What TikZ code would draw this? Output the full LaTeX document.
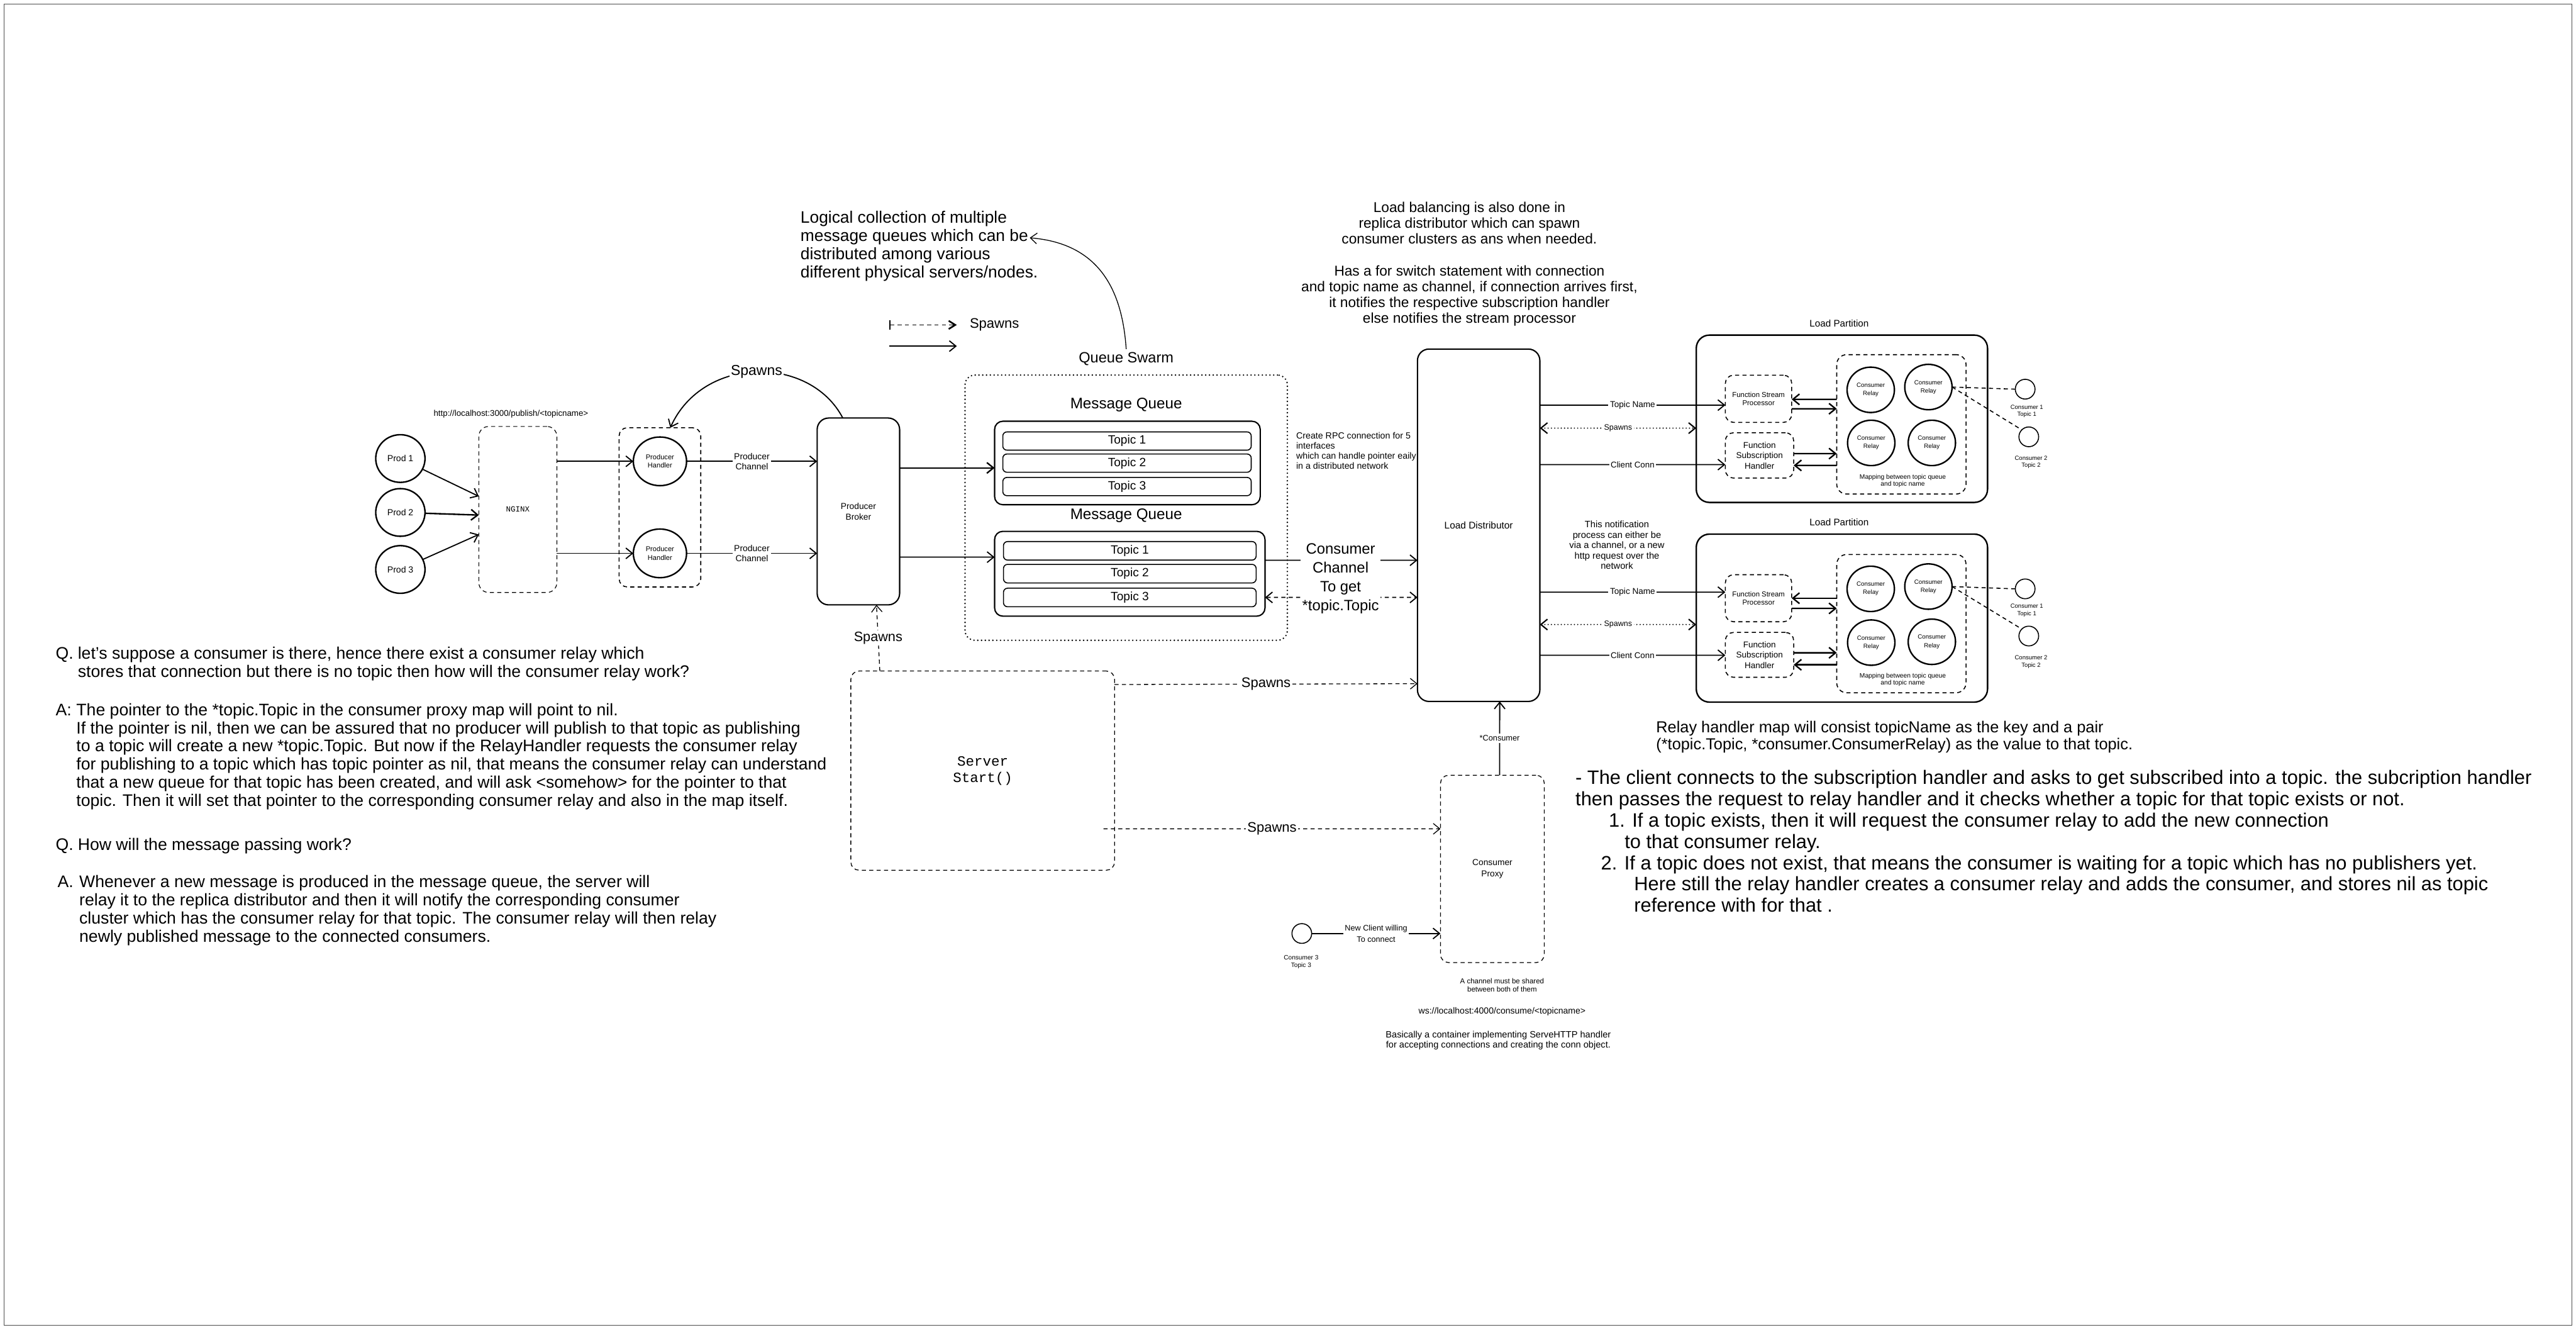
\documentclass[tikz,border=0pt]{standalone}
\usepackage{fontspec}
\setmainfont{Liberation Sans}
\setmonofont{Liberation Mono}
\usetikzlibrary{arrows.meta,shapes.geometric,calc}
\newcommand\fsz[2]{\fontsize{#1}{#2}\selectfont}
\begin{document}
\begin{tikzpicture}[x=1mm,y=-1mm,
  every node/.style={inner sep=0pt,outer sep=0pt},
  solidbox/.style={draw,line width=0.8mm,rounded corners=7mm},
  dashbox/.style={draw,line width=0.6mm,rounded corners=5mm,dash pattern=on 2.5mm off 2mm},
  dotbox/.style={draw,line width=1mm,rounded corners=6mm,dash pattern=on 0mm off 2.3mm,line cap=round},
  ell/.style={draw,ellipse,line width=0.9mm,align=center},
  topicrow/.style={draw,line width=0.6mm,rounded corners=2.5mm,font=\fsz{20.8}{24}},
  tip/.tip={Straight Barb[length=4mm,width=6.5mm]},
  arr/.style={line width=0.7mm,-tip},
  darr/.style={arr,dash pattern=on 2.5mm off 2mm},
  dotarr/.style={line width=0.8mm,tip-tip,dash pattern=on 0mm off 2mm,line cap=round},
  dline/.style={line width=0.6mm,dash pattern=on 2.5mm off 2mm},
  lbl/.style={fill=white,inner sep=1mm,align=center},
  txt/.style={align=left,anchor=north west},
  ctxt/.style={align=center,anchor=north}]
\useasboundingbox (0,0) rectangle (1568,809);
\fill[white] (0,0) rectangle (1568,809);
\draw[line width=0.35mm,black!70] (2.5,2.5) rectangle (1565.5,806.5);

% ---------------- producers ----------------
\node[font=\fsz{14.5}{17}] (url) at (311,252) {http://localhost:3000/publish/<topicname>};
\node[ell,minimum width=30mm,minimum height=29mm,font=\fsz{15.3}{18}] (prod1) at (243.7,279) {Prod 1};
\node[ell,minimum width=30mm,minimum height=29mm,font=\fsz{15.3}{18}] (prod2) at (243.7,311.8) {Prod 2};
\node[ell,minimum width=30mm,minimum height=29mm,font=\fsz{15.3}{18}] (prod3) at (243.7,346.5) {Prod 3};
\node[dashbox,line width=0.45mm,rounded corners=6mm,minimum width=47.5mm,minimum height=101mm,font=\ttfamily\fsz{13.6}{16}] (nginx) at (315.2,310) {NGINX};
\node[dashbox,minimum width=49.7mm,minimum height=96.9mm] (phgroup) at (401.7,308.7) {};
\node[ell,minimum width=32.4mm,minimum height=29.6mm,font=\fsz{12.1}{14.5}] (ph1) at (401.7,280.7) {Producer\\Handler};
\node[ell,minimum width=32.4mm,minimum height=29.6mm,font=\fsz{12.1}{14.5}] (ph2) at (401.7,336.7) {Producer\\Handler};
\node[solidbox,minimum width=50.2mm,minimum height=113.7mm,font=\fsz{15}{18},align=center] (broker) at (522.5,311.2) {Producer\\Broker};

\draw[arr] (prod1) -- ($(nginx.west)+(0,-8)$);
\draw[arr,line width=0.9mm] (prod2) -- ($(nginx.west)+(0,3.4)$);
\draw[arr] (prod3) -- ($(nginx.west)+(0,15.2)$);
\draw[arr] (nginx.east |- ph1.west) -- (ph1.west);
\draw[arr] (nginx.east |- ph2.west) -- (ph2.west);
\draw[arr] (ph1.east) -- (broker.west |- ph1.east)
  node[lbl,midway,font=\fsz{15.2}{17.6}] (pc1) {Producer\\Channel};
\draw[arr] (ph2.east) -- (broker.west |- ph2.east)
  node[lbl,midway,font=\fsz{15.2}{17.6}] (pc2) {Producer\\Channel};
\draw[arr] ($(broker.north)+(-9.5,0)$) .. controls (493,216) and (428,216) .. ($(phgroup.north)+(6.3,0)$)
  node[lbl,pos=0.5,font=\fsz{25}{28}] (sp1) {Spawns};

% ---------------- legend / note ----------------
\node[txt,font=\fsz{28.7}{31.5}] (logical) at (487.3,128.4)
  {Logical collection of multiple\\message queues which can be\\distributed among various\\different physical servers/nodes.};
\coordinate (lgA) at (541.3,197.7);
\coordinate (lgB) at (582.4,197.7);
\coordinate (lgC) at (541.3,210.6);
\coordinate (lgD) at (582.4,210.6);
\draw[line width=0.7mm,dash pattern=on 2.5mm off 2mm,arrows={Bar[width=6mm]-Straight Barb[length=4mm,width=5mm,line width=1mm]}] (lgA) -- (lgB);
\node[font=\fsz{24}{28},anchor=west] (lgtxt) at (590.3,197.7) {Spawns};
\draw[arr] (lgC) -- (lgD);

% ---------------- queue swarm ----------------
\node[dotbox,minimum width=196.2mm,minimum height=161.4mm] (swarm) at (685.5,308.9) {};
\node[font=\fsz{25.7}{30}] (swarmlbl) at (685.5,218.4) {Queue Swarm};
\draw[arr,line width=0.5mm] ($(swarmlbl.north)+(0,-2)$) .. controls (683,175) and (668,148) .. ($(logical.east)+(-5,-5)$);
\node[font=\fsz{26.4}{30}] (mqt1) at (685.5,246.2) {Message Queue};
\node[solidbox,rounded corners=5mm,minimum width=161.7mm,minimum height=50.8mm] (mq1) at (686.25,281.7) {};
\node[topicrow,minimum width=151.2mm,minimum height=11.1mm] (t11) at (686,268.35) {Topic 1};
\node[topicrow,minimum width=151.2mm,minimum height=11.1mm] (t12) at (686,281.8) {Topic 2};
\node[topicrow,minimum width=151.2mm,minimum height=11.1mm] (t13) at (686,296.05) {Topic 3};
\node[font=\fsz{26.4}{30}] (mqt2) at (685.5,313.9) {Message Queue};
\node[solidbox,rounded corners=5mm,minimum width=164.6mm,minimum height=51.6mm] (mq2) at (687.7,349.1) {};
\node[topicrow,minimum width=153.8mm,minimum height=11.3mm] (t21) at (687.7,335.15) {Topic 1};
\node[topicrow,minimum width=153.8mm,minimum height=11.3mm] (t22) at (687.7,349.05) {Topic 2};
\node[topicrow,minimum width=153.8mm,minimum height=11.3mm] (t23) at (687.7,363.55) {Topic 3};

\draw[arr,line width=0.9mm] ($(broker.east)+(0,-26.5)$) -- ($(mq1.west)+(0,3)$);
\draw[arr] ($(broker.east)+(0,27.8)$) -- ($(mq2.west)+(0,-10.1)$);

% ---------------- server ----------------
\node[dashbox,line width=0.5mm,minimum width=160.5mm,minimum height=121.2mm,font=\ttfamily\fsz{24.5}{28.5},align=center] (server) at (598.15,468.9) {Server\\Start()};
\draw[darr,line width=0.5mm] ($(server.north)+(-62.6,0)$) -- ($(broker.south)+(11,0)$)
  node[lbl,midway,font=\fsz{23.6}{28}] (sp2) {Spawns};

% ---------------- load distributor ----------------
\node[ctxt,font=\fsz{24.7}{27.3}] (lbtext) at (894.4,123)
  {Load balancing is also done in\\replica distributor which can spawn\\consumer clusters as ans when needed.\\[9.6mm]Has a for switch statement with connection\\and topic name as channel, if connection arrives first,\\it notifies the respective subscription handler\\else notifies the stream processor};
\node[txt,font=\fsz{15.5}{17.4}] (rpc) at (789,263)
  {Create RPC connection for 5\\interfaces\\which can handle pointer eaily\\in a distributed network};
\node[solidbox,minimum width=74.5mm,minimum height=214.4mm,font=\fsz{16.8}{20}] (ld) at (900.05,319.6) {Load Distributor};
\node[ctxt,font=\fsz{16}{18}] (notif) at (984.2,317)
  {This notification\\process can either be\\via a channel, or a new\\http request over the\\network};

\draw[arr] ($(mq2.east)+(0,-8.2)$) -- ($(ld.west)+(0,21.3)$);
\draw[darr,arrows={Straight Barb[length=4mm,width=6.5mm]-Straight Barb[length=4mm,width=6.5mm]}] ($(mq2.east)+(0,14.4)$) -- ($(ld.west)+(0,43.9)$);
\node[lbl,font=\fsz{26}{32.7}] (cclbl) at (816,351.9) {Consumer\\Channel\\To get\\*topic.Topic};
\draw[darr,line width=0.5mm] ($(server.east)+(0,-52.4)$) -- ($(ld.west)+(0,96.4)$)
  node[lbl,midway,font=\fsz{24}{28}] (sp3) {Spawns};

% ---------------- consumer proxy ----------------
\node[dashbox,line width=0.5mm,minimum width=63.2mm,minimum height=114mm,font=\fsz{15}{19.6},align=center] (cproxy) at (908.4,528.7) {Consumer\\Proxy};
\draw[darr,line width=0.5mm] ($(server.east)+(-6.7,35.4)$) -- ($(cproxy.west)+(0,-24.4)$)
  node[lbl,midway,font=\fsz{24}{28}] (sp4) {Spawns};
\draw[arr] ($(cproxy.north)+(4.4,0)$) -- ($(ld.south)+(12.8,0)$)
  node[lbl,midway,font=\fsz{13.9}{16}] (cons) {*Consumer};
\node[draw,circle,line width=0.6mm,minimum size=12mm] (c3) at (792.4,568) {};
\node[font=\fsz{11}{13},align=center] (c3l) at (792,585.3) {Consumer 3\\Topic 3};
\draw[arr] (c3.east) -- (cproxy.west |- c3.east)
  node[lbl,midway,font=\fsz{13.8}{19}] (newc) {New Client willing\\To connect};
\node[font=\fsz{12.5}{15},align=center] (shared) at (914.3,599.4) {A channel must be shared\\between both of them};
\node[font=\fsz{15.3}{18}] (wsurl) at (914.3,615.6) {ws://localhost:4000/consume/<topicname>};
\node[font=\fsz{15.9}{17.6},align=center] (basic) at (912,633.2) {Basically a container implementing ServeHTTP handler\\for accepting connections and creating the conn object.};

% ---------------- load partition 1 ----------------
\node[font=\fsz{16.6}{20}] (pt1) at (1119.5,196.6) {Load Partition};
\node[solidbox,line width=0.9mm,rounded corners=8mm,minimum width=177.3mm,minimum height=101.8mm] (part1) at (1121.15,254.8) {};
\node[dashbox,minimum width=40.4mm,minimum height=28.7mm,font=\fsz{12.4}{14.2},align=center] (fsp1) at (1070.4,242.65) {Function Stream\\Processor};
\node[dashbox,minimum width=41.6mm,minimum height=27.6mm,font=\fsz{14.7}{17.9},align=center] (fsh1) at (1071,277.1) {Function\\Subscription\\Handler};
\node[dashbox,rounded corners=6mm,minimum width=78.7mm,minimum height=84.8mm] (rb1) at (1157.35,258.2) {};
\node[ell,minimum width=28.8mm,minimum height=27.6mm,font=\fsz{10.6}{14.2}] (r1a) at (1138.7,237.2) {Consumer\\Relay};
\node[ell,minimum width=28.8mm,minimum height=27.6mm,font=\fsz{10.6}{14.2}] (r1b) at (1173.8,235.5) {Consumer\\Relay};
\node[ell,minimum width=28.8mm,minimum height=27.6mm,font=\fsz{10.6}{14.2}] (r1c) at (1139,269.5) {Consumer\\Relay};
\node[ell,minimum width=28.8mm,minimum height=27.6mm,font=\fsz{10.6}{14.2}] (r1d) at (1175.9,269.5) {Consumer\\Relay};
\node[font=\fsz{11.2}{12.2},align=center] (map1) at (1158.2,292.6) {Mapping between topic queue\\and topic name};
\node[draw,circle,line width=0.6mm,minimum size=12mm] (c1a) at (1232.7,236.8) {};
\node[font=\fsz{10.4}{12.5},align=center] (c1al) at (1233.7,250.3) {Consumer 1\\Topic 1};
\node[draw,circle,line width=0.6mm,minimum size=12mm] (c2a) at (1234.9,265.8) {};
\node[font=\fsz{10.4}{12.5},align=center] (c2al) at (1236.3,281.3) {Consumer 2\\Topic 2};
\draw[dline] (r1b.east) -- (c1a.west);
\draw[dline] (r1b.east) -- (c2a.north west);
\draw[arr,line width=0.9mm] ($(rb1.west)+(0,-15.2)$) -- ($(fsp1.east)+(0,0.35)$);
\draw[arr,line width=0.9mm] ($(fsp1.east)+(0,6.05)$) -- ($(rb1.west)+(0,-9.5)$);
\draw[arr,line width=0.9mm] ($(fsh1.east)+(0,-1.1)$) -- ($(rb1.west)+(0,17.8)$);
\draw[arr,line width=0.9mm] ($(rb1.west)+(0,25)$) -- ($(fsh1.east)+(0,6.1)$);

\draw[arr] ($(ld.east)+(0,-73.1)$) -- ($(fsp1.west)+(0,3.85)$)
  node[lbl,midway,font=\fsz{14.8}{17}] (tn1) {Topic Name};
\draw[dotarr] ($(ld.east)+(0,-59.1)$) -- ($(part1.west)+(0,5.7)$)
  node[lbl,midway,font=\fsz{13.6}{16}] (sp5) {Spawns};
\draw[arr] ($(ld.east)+(0,-36.9)$) -- ($(fsh1.west)+(0,5.6)$)
  node[lbl,midway,font=\fsz{14.5}{17}] (cc1) {Client Conn};

% ---------------- load partition 2 ----------------
\node[font=\fsz{16.6}{20}] (pt2) at (1119.5,317.8) {Load Partition};
\node[solidbox,line width=0.9mm,rounded corners=8mm,minimum width=177.3mm,minimum height=102.2mm] (part2) at (1121.15,376.1) {};
\node[dashbox,minimum width=40.4mm,minimum height=28.6mm,font=\fsz{12.4}{14.2},align=center] (fsp2) at (1070.4,364) {Function Stream\\Processor};
\node[dashbox,minimum width=41.6mm,minimum height=27.3mm,font=\fsz{14.7}{17.9},align=center] (fsh2) at (1071,398.45) {Function\\Subscription\\Handler};
\node[dashbox,rounded corners=6mm,minimum width=78.7mm,minimum height=84.1mm] (rb2) at (1157.35,379.45) {};
\node[ell,minimum width=28.8mm,minimum height=27.6mm,font=\fsz{10.6}{14.2}] (r2a) at (1138.7,358.3) {Consumer\\Relay};
\node[ell,minimum width=28.8mm,minimum height=27.6mm,font=\fsz{10.6}{14.2}] (r2b) at (1173.8,356.9) {Consumer\\Relay};
\node[ell,minimum width=28.8mm,minimum height=27.6mm,font=\fsz{10.6}{14.2}] (r2c) at (1139,391) {Consumer\\Relay};
\node[ell,minimum width=28.8mm,minimum height=27.6mm,font=\fsz{10.6}{14.2}] (r2d) at (1175.9,390.5) {Consumer\\Relay};
\node[font=\fsz{11.2}{12.2},align=center] (map2) at (1158.2,413.7) {Mapping between topic queue\\and topic name};
\node[draw,circle,line width=0.6mm,minimum size=12mm] (c1b) at (1232.7,358.3) {};
\node[font=\fsz{10.4}{12.5},align=center] (c1bl) at (1233.7,371.3) {Consumer 1\\Topic 1};
\node[draw,circle,line width=0.6mm,minimum size=12mm] (c2b) at (1234.9,387) {};
\node[font=\fsz{10.4}{12.5},align=center] (c2bl) at (1236.3,402.7) {Consumer 2\\Topic 2};
\draw[dline] (r2b.east) -- (c1b.west);
\draw[dline] (r2b.east) -- (c2b.north west);
\draw[arr,line width=0.9mm] ($(rb2.west)+(0,-15.45)$) -- ($(fsp2.east)+(0,0)$);
\draw[arr,line width=0.9mm] ($(fsp2.east)+(0,6.2)$) -- ($(rb2.west)+(0,-9.25)$);
\draw[arr,line width=0.9mm] ($(fsh2.east)+(0,-1.25)$) -- ($(rb2.west)+(0,17.75)$);
\draw[arr,line width=0.9mm] ($(rb2.west)+(0,25.05)$) -- ($(fsh2.east)+(0,6.05)$);

\draw[arr] ($(ld.east)+(0,40.7)$) -- ($(fsp2.west)+(0,-3.7)$)
  node[lbl,midway,font=\fsz{14.8}{17}] (tn2) {Topic Name};
\draw[dotarr] ($(ld.east)+(0,60.4)$) -- ($(part2.west)+(0,3.9)$)
  node[lbl,midway,font=\fsz{13.6}{16}] (sp6) {Spawns};
\draw[arr] ($(ld.east)+(0,79.1)$) -- ($(fsh2.west)+(0,0.25)$)
  node[lbl,midway,font=\fsz{14.5}{17}] (cc2) {Client Conn};

% ---------------- text blocks ----------------
\node[txt,font=\fsz{27.6}{29.3}] (relaymap) at (1008.1,438.7)
  {Relay handler map will consist topicName as the key and a pair\\(*topic.Topic, *consumer.ConsumerRelay) as the value to that topic.};
\node[txt,font=\fsz{33.6}{36.8}] (clientnote) at (959,468.8)
  {- The client connects to the subscription handler and asks to get subscribed into a topic. the subcription handler\\
   then passes the request to relay handler and it checks whether a topic for that topic exists or not.\\
   \hspace*{20.3mm}1. If a topic exists, then it will request the consumer relay to add the new connection\\
   \hspace*{29.9mm}to that consumer relay.\\
   \hspace*{15.5mm}2. If a topic does not exist, that means the consumer is waiting for a topic which has no publishers yet.\\
   \hspace*{35.7mm}Here still the relay handler creates a consumer relay and adds the consumer, and stores nil as topic\\
   \hspace*{35.7mm}reference with for that .};

\node[txt,font=\fsz{29}{31.3}] (q1) at (33.9,393.7)
  {\makebox[13.5mm][l]{Q.}let's suppose a consumer is there, hence there exist a consumer relay which\\
   \hspace*{13.5mm}stores that connection but there is no topic then how will the consumer relay work?};
\node[txt,font=\fsz{29}{31.3}] (a1) at (33.9,428)
  {\makebox[12.6mm][l]{A:}The pointer to the *topic.Topic in the consumer proxy map will point to nil.\\
   \hspace*{12.6mm}If the pointer is nil, then we can be assured that no producer will publish to that topic as publishing\\
   \hspace*{12.6mm}to a topic will create a new *topic.Topic. But now if the RelayHandler requests the consumer relay\\
   \hspace*{12.6mm}for publishing to a topic which has topic pointer as nil, that means the consumer relay can understand\\
   \hspace*{12.6mm}that a new queue for that topic has been created, and will ask <somehow> for the pointer to that\\
   \hspace*{12.6mm}topic. Then it will set that pointer to the corresponding consumer relay and also in the map itself.};
\node[txt,font=\fsz{29}{31.3}] (q2) at (33.9,510)
  {\makebox[13.5mm][l]{Q.}How will the message passing work?};
\node[txt,font=\fsz{29}{31.3}] (a2) at (35.1,532.7)
  {\makebox[13.2mm][l]{A.}Whenever a new message is produced in the message queue, the server will\\
   \hspace*{13.2mm}relay it to the replica distributor and then it will notify the corresponding consumer\\
   \hspace*{13.2mm}cluster which has the consumer relay for that topic. The consumer relay will then relay\\
   \hspace*{13.2mm}newly published message to the connected consumers.};
\end{tikzpicture}
\end{document}
